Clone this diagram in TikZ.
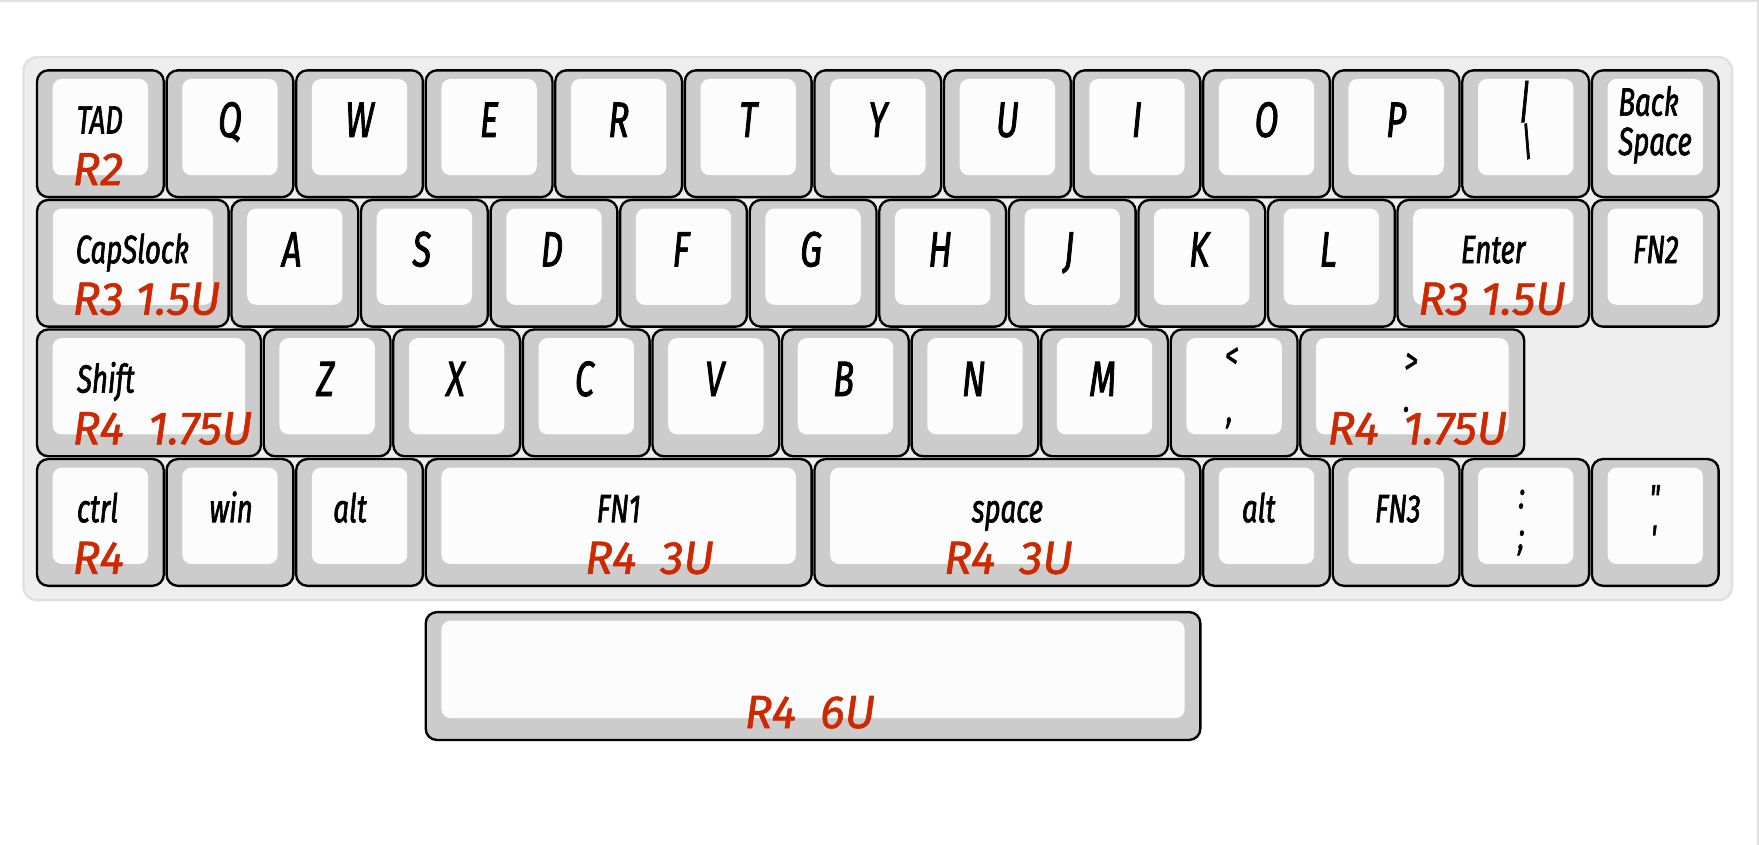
\documentclass[tikz,border=0pt]{standalone}
\usepackage{fontspec}
\usepackage{tikz}
\newfontfamily\keyfont[FakeStretch=0.7, FakeBold=1.6]{Fira Sans}
\newfontfamily\capfont[FakeBold=1.2]{Fira Sans}
\definecolor{capgray}{HTML}{CCCCCC}
\definecolor{capface}{HTML}{FCFCFC}
\definecolor{boardfill}{HTML}{EEEEEE}
\definecolor{boardline}{HTML}{E0E0E0}
\definecolor{capred}{RGB}{205,40,0}
\tikzstyle{board_frame} = [draw=boardline, line width=0.6pt, fill=boardfill, rounded corners=0.12cm, inner sep=0pt]
\tikzstyle{key_cap} = [draw=black, line width=0.6pt, fill=capgray, rounded corners=0.1cm, inner sep=0pt, minimum height=1.13cm,
  path picture={\fill[capface, rounded corners=0.08cm] ([xshift=0.14cm, yshift=0.195cm]path picture bounding box.south west) rectangle ([xshift=-0.14cm, yshift=-0.077cm]path picture bounding box.north east);}]
\tikzstyle{key_one} = [key_cap, minimum width=1.13cm]
\tikzstyle{key_half} = [key_cap, minimum width=1.7075cm]
\tikzstyle{key_shift} = [key_cap, minimum width=1.99625cm]
\tikzstyle{key_three} = [key_cap, minimum width=3.44cm]
\tikzstyle{key_letter} = [inner sep=0pt, anchor=base, font=\keyfont\itshape\fontsize{12.6}{13}\selectfont]
\tikzstyle{key_word} = [inner sep=0pt, anchor=base, font=\keyfont\itshape\fontsize{10}{10}\selectfont]
\tikzstyle{key_sym} = [inner sep=0pt, font=\keyfont\itshape\fontsize{9.5}{10}\selectfont]
\tikzstyle{key_row} = [inner sep=0pt, anchor=base, text=capred, font=\capfont\itshape\fontsize{11.8}{12}\selectfont]

\begin{document}
\begin{tikzpicture}
			\useasboundingbox (0,0) rectangle (15.68,-7.53);
			\draw[boardline, line width=1pt] (0,0) -- (15.68,0) -- (15.68,-7.53);
			\node (board) at (7.825,-2.93) [board_frame, minimum width=15.23cm, minimum height=4.84cm] {};
			% row 1
			\node (tab) at (0.895,-1.192) [key_one] {};
			\node (Q) at (2.050,-1.192) [key_one] {};
			\node (W) at (3.205,-1.192) [key_one] {};
			\node (E) at (4.360,-1.192) [key_one] {};
			\node (R) at (5.515,-1.192) [key_one] {};
			\node (T) at (6.670,-1.192) [key_one] {};
			\node (Y) at (7.825,-1.192) [key_one] {};
			\node (U) at (8.980,-1.192) [key_one] {};
			\node (I) at (10.135,-1.192) [key_one] {};
			\node (O) at (11.290,-1.192) [key_one] {};
			\node (P) at (12.445,-1.192) [key_one] {};
			\node (bar) at (13.600,-1.192) [key_one] {};
			\node (bksp) at (14.755,-1.192) [key_one] {};
			\node (tab_t) at (0.89,-1.19) [key_word] {TAD};
			\node (Q_t) at (2.050,-1.22) [key_letter] {Q};
			\node (W_t) at (3.205,-1.22) [key_letter] {W};
			\node (E_t) at (4.360,-1.22) [key_letter] {E};
			\node (R_t) at (5.515,-1.22) [key_letter] {R};
			\node (T_t) at (6.670,-1.22) [key_letter] {T};
			\node (Y_t) at (7.825,-1.22) [key_letter] {Y};
			\node (U_t) at (8.980,-1.22) [key_letter] {U};
			\node (I_t) at (10.135,-1.22) [key_letter] {I};
			\node (O_t) at (11.290,-1.22) [key_letter] {O};
			\node (P_t) at (12.445,-1.22) [key_letter] {P};
			\node (bar_t) at (13.59,-0.905) [key_sym, font=\keyfont\itshape\fontsize{11.5}{12}\selectfont] {|};
			\node (bksl_t) at (13.61,-1.26) [key_sym, font=\keyfont\itshape\fontsize{10}{12}\selectfont] {\textbackslash};
			\node (bksp_t) at (14.42,-0.76) [key_word, anchor=north west, align=left] {Back\\Space};
			\node (tab_r) at (0.64,-1.65) [key_row, anchor=base west] {R2};
			% row 2
			\node (caps) at (1.184,-2.347) [key_half] {};
			\node (A) at (2.628,-2.347) [key_one] {};
			\node (S) at (3.783,-2.347) [key_one] {};
			\node (D) at (4.938,-2.347) [key_one] {};
			\node (F) at (6.093,-2.347) [key_one] {};
			\node (G) at (7.248,-2.347) [key_one] {};
			\node (H) at (8.403,-2.347) [key_one] {};
			\node (J) at (9.558,-2.347) [key_one] {};
			\node (K) at (10.713,-2.347) [key_one] {};
			\node (L) at (11.868,-2.347) [key_one] {};
			\node (enter) at (13.311,-2.347) [key_half] {};
			\node (fntwo) at (14.755,-2.347) [key_one] {};
			\node (caps_t) at (1.18,-2.345) [key_word] {CapSlock};
			\node (A_t) at (2.60,-2.375) [key_letter] {A};
			\node (S_t) at (3.76,-2.375) [key_letter] {S};
			\node (D_t) at (4.92,-2.375) [key_letter] {D};
			\node (F_t) at (6.07,-2.375) [key_letter] {F};
			\node (G_t) at (7.23,-2.375) [key_letter] {G};
			\node (H_t) at (8.38,-2.375) [key_letter] {H};
			\node (J_t) at (9.53,-2.375) [key_letter] {J};
			\node (K_t) at (10.69,-2.375) [key_letter] {K};
			\node (L_t) at (11.84,-2.375) [key_letter] {L};
			\node (enter_t) at (13.31,-2.345) [key_word] {Enter};
			\node (fntwo_t) at (14.76,-2.345) [key_word] {FN2};
			\node (caps_r) at (0.64,-2.805) [key_row, anchor=base west] {R3 1.5U};
			\node (enter_r) at (13.30,-2.805) [key_row] {R3 1.5U};
			% row 3
			\node (lshift) at (1.328,-3.502) [key_shift] {};
			\node (Z) at (2.916,-3.502) [key_one] {};
			\node (X) at (4.071,-3.502) [key_one] {};
			\node (C) at (5.226,-3.502) [key_one] {};
			\node (V) at (6.381,-3.502) [key_one] {};
			\node (B) at (7.536,-3.502) [key_one] {};
			\node (N) at (8.691,-3.502) [key_one] {};
			\node (M) at (9.846,-3.502) [key_one] {};
			\node (comma) at (11.001,-3.502) [key_one] {};
			\node (rshift) at (12.589,-3.502) [key_shift] {};
			\node (lshift_t) at (0.68,-3.50) [key_word, anchor=base west] {Shift};
			\node (Z_t) at (2.90,-3.53) [key_letter] {Z};
			\node (X_t) at (4.06,-3.53) [key_letter] {X};
			\node (C_t) at (5.21,-3.53) [key_letter] {C};
			\node (V_t) at (6.37,-3.53) [key_letter] {V};
			\node (B_t) at (7.52,-3.53) [key_letter] {B};
			\node (N_t) at (8.68,-3.53) [key_letter] {N};
			\node (M_t) at (9.83,-3.53) [key_letter] {M};
			\node (less_t) at (10.98,-3.19) [key_sym] {<};
			\node (comma_t) at (10.96,-3.77) [key_sym] {,};
			\node (more_t) at (12.58,-3.24) [key_sym] {>};
			\node (dot_t) at (12.54,-3.65) [key_sym] {.};
			\node (lshift_r) at (0.64,-3.96) [key_row, anchor=base west] {R4~~1.75U};
			\node (rshift_r) at (12.635,-3.96) [key_row] {R4~~1.75U};
			% row 4
			\node (ctrl) at (0.895,-4.657) [key_one] {};
			\node (win) at (2.050,-4.657) [key_one] {};
			\node (lalt) at (3.205,-4.657) [key_one] {};
			\node (fnone) at (5.515,-4.657) [key_three] {};
			\node (space) at (8.980,-4.657) [key_three] {};
			\node (ralt) at (11.290,-4.657) [key_one] {};
			\node (fnthree) at (12.445,-4.657) [key_one] {};
			\node (semi) at (13.600,-4.657) [key_one] {};
			\node (quote) at (14.755,-4.657) [key_one] {};
			\node (ctrl_t) at (0.87,-4.655) [key_word] {ctrl};
			\node (win_t) at (2.06,-4.655) [key_word] {win};
			\node (lalt_t) at (3.12,-4.655) [key_word] {alt};
			\node (fnone_t) at (5.515,-4.655) [key_word] {FN1};
			\node (space_t) at (8.98,-4.655) [key_word] {space};
			\node (ralt_t) at (11.22,-4.655) [key_word] {alt};
			\node (fnthree_t) at (12.46,-4.655) [key_word] {FN3};
			\node (colon_t) at (13.565,-4.45) [key_sym] {:};
			\node (semi_t) at (13.56,-4.84) [key_sym] {;};
			\node (dquote_t) at (14.75,-4.44) [key_sym] {"};
			\node (squote_t) at (14.74,-4.80) [key_sym] {'};
			\node (ctrl_r) at (0.64,-5.115) [key_row, anchor=base west] {R4};
			\node (fnone_r) at (5.79,-5.115) [key_row] {R4~~3U};
			\node (space_r) at (8.99,-5.115) [key_row] {R4~~3U};
			% spare bar
			\node (bigspace) at (7.2475,-6.026) [key_cap, minimum width=6.905cm, minimum height=1.14cm] {};
			\node (bigspace_r) at (7.22,-6.49) [key_row] {R4~~6U};
		\end{tikzpicture}
\end{document}
